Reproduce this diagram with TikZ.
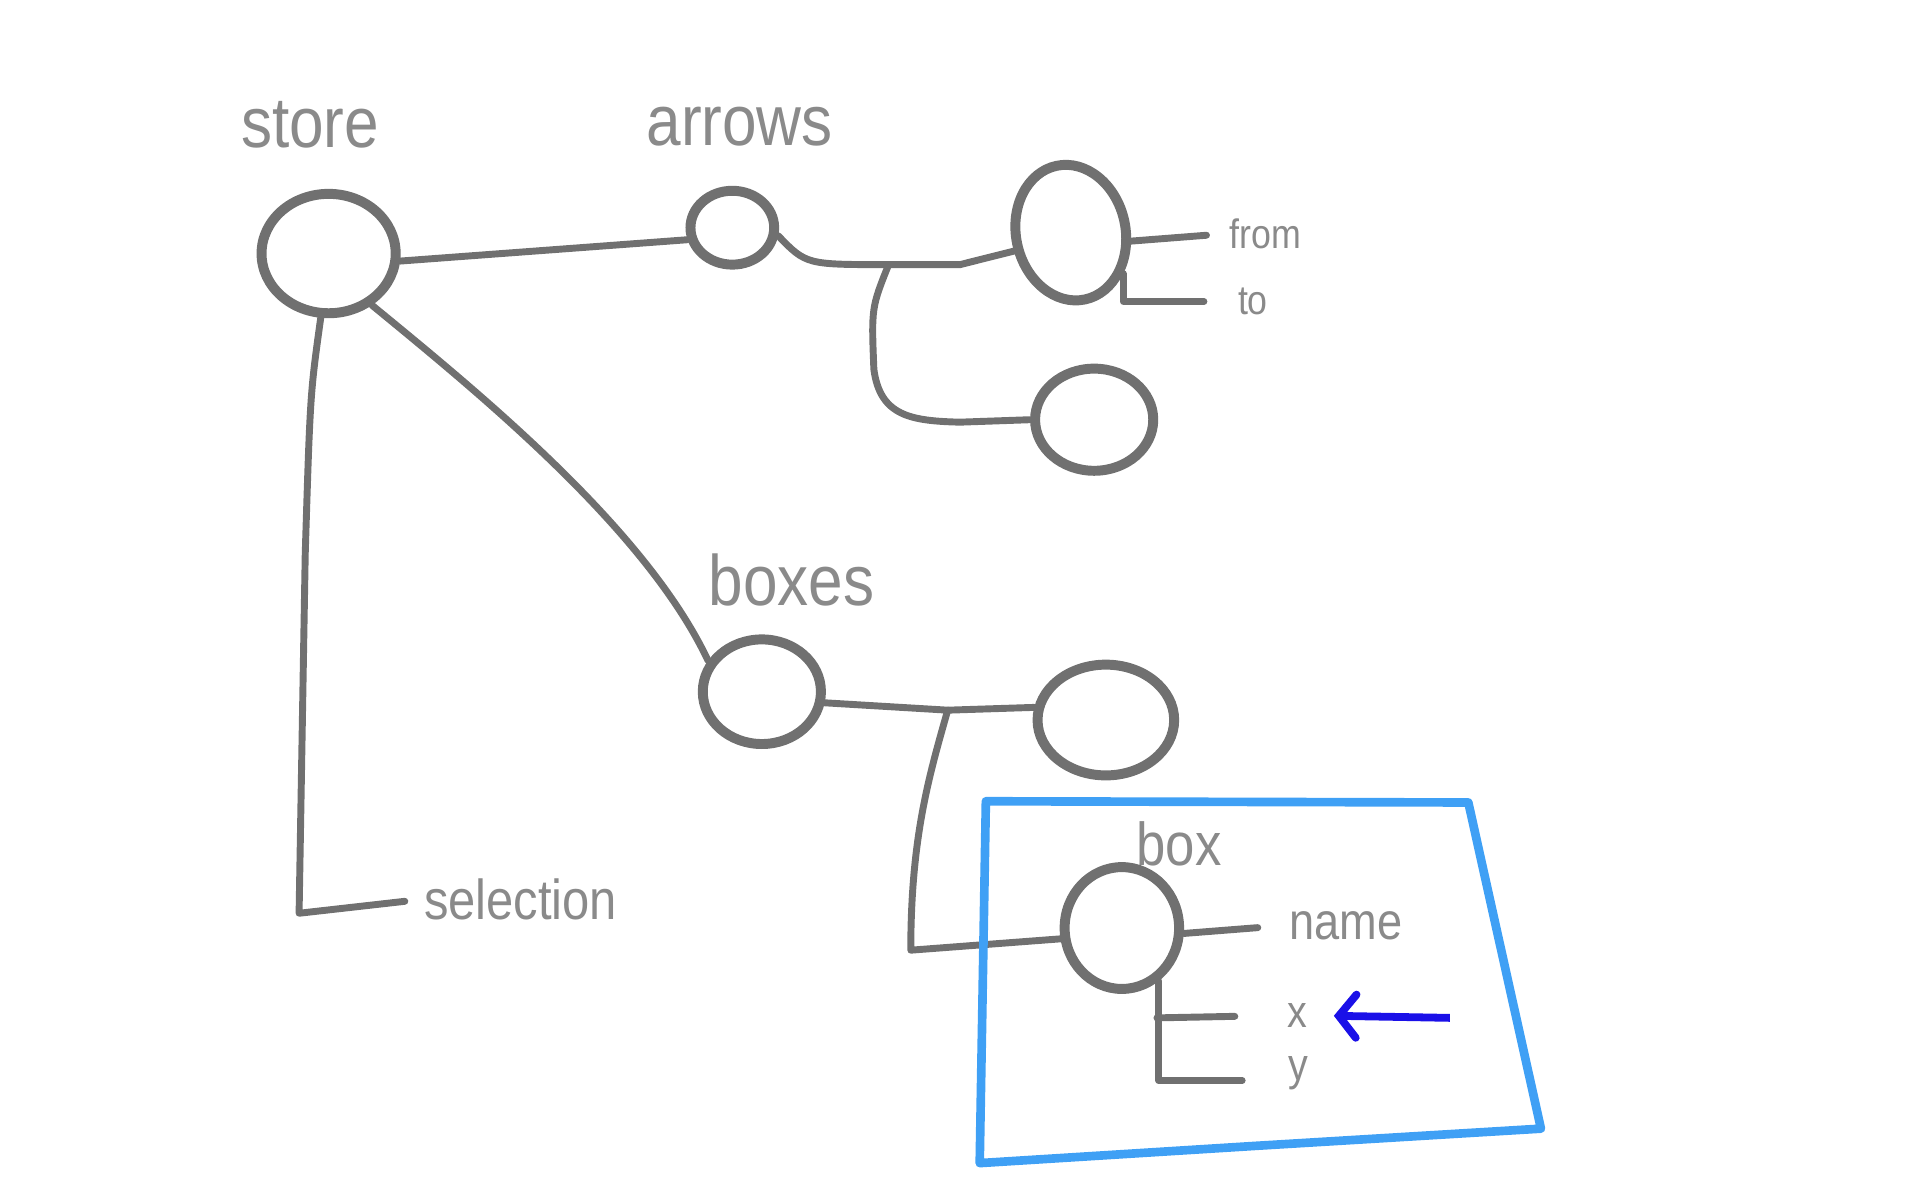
\documentclass[tikz,border=0pt]{standalone}
\usepackage{fontspec}
\setmainfont{Liberation Sans}[FakeStretch=0.87]
\usetikzlibrary{shapes.geometric,arrows.meta}
\definecolor{pencil}{HTML}{707070}
\definecolor{ink}{HTML}{8A8A8A}
\definecolor{frame}{HTML}{3FA0F5}
\definecolor{marker}{HTML}{1A10E8}
\begin{document}
\begin{tikzpicture}[x=1cm, y=-1cm,
    bubble/.style={ellipse, draw=pencil, line width=2.3pt, inner sep=0pt},
    wire/.style={draw=pencil, line width=1.6pt, line cap=round, line join=round},
    title/.style={text=ink, font=\fontsize{16.5pt}{18pt}\selectfont},
    field/.style={text=ink, inner sep=1pt, font=\fontsize{#1pt}{#1pt}\selectfont}]
  \useasboundingbox (0,0) rectangle (15.6,9.75);
  % names
  \node[title] (lst) at (2.52,1.01) {store};
  \node[title] (lar) at (6.01,1.03) {arrows};
  \node[title] (lbx) at (6.43,4.71) {boxes};
  \node[field=14] (lb2) at (9.58,6.86) {box};
  \node[field=13] (sel) at (4.23,7.31) {selection};
  \node[field=9.5] (fr) at (10.28,1.90) {from};
  \node[field=9.5] (tt) at (10.18,2.45) {to};
  \node[field=12] (nm) at (10.935,7.52) {name};
  \node[field=10.5] (fx) at (10.54,8.25) {x};
  \node[field=10.5] (fy) at (10.55,8.72) {y};
  % bubbles
  \node[bubble, minimum width=1.09cm, minimum height=0.97cm] (st) at (2.67,2.06) {};
  \node[bubble, minimum width=0.68cm, minimum height=0.6cm] (ar) at (5.95,1.85) {};
  \node[bubble, minimum width=0.89cm, minimum height=1.11cm, rotate=12] (a1) at (8.70,1.89) {};
  \node[bubble, minimum width=0.96cm, minimum height=0.83cm] (a2) at (8.89,3.41) {};
  \node[bubble, minimum width=0.96cm, minimum height=0.85cm] (bx) at (6.19,5.62) {};
  \node[bubble, minimum width=1.11cm, minimum height=0.9cm] (b1) at (8.985,5.85) {};
  \node[bubble, minimum width=0.93cm, minimum height=0.99cm] (b2) at (9.115,7.54) {};
  \coordinate (ajoin) at (7.22,2.15);
  \coordinate (bjoin) at (7.70,5.77);
  \coordinate (selcorner) at (2.43,7.42);
  \coordinate (bcorner) at (7.40,7.72);
  \coordinate (xjoin) at (9.40,8.27);
  \coordinate (pt) at (11.78,8.27);
  % wires
  \draw[wire] (st.-6) -- (ar.-165);
  \draw[wire] (st.-50) .. controls (3.9,3.2) and (5.25,4.3) .. (bx.150);
  \draw[wire, shorten >=0.115cm] (st.-97) .. controls (2.52,3.2) .. (2.48,4.5) -- (selcorner) -- (sel.west);
  \draw[wire] (ar.-10) .. controls (6.55,2.15) .. (ajoin) -- (7.80,2.15) -- (a1.186);
  \draw[wire] (ajoin) .. controls (7.08,2.5) .. (7.10,3.0) .. controls (7.15,3.38) and (7.40,3.42) .. (7.80,3.43) -- (a2.west);
  \draw[wire, shorten >=0.145cm] (a1.-20) -- (fr.west);
  \draw[wire, shorten >=0.235cm] (a1.-50) |- (tt.west);
  \draw[wire] (bx.-10) -- (bjoin) -- (b1.170);
  \draw[wire] (bjoin) .. controls (7.55,6.3) and (7.40,6.8) .. (bcorner) -- (b2.190);
  \draw[wire, shorten >=0.215cm] (b2.-5) -- (nm.west);
  \draw[wire, shorten >=0.335cm] (b2.-55) |- (fy.base west);
  \draw[wire, shorten >=0.385cm] (xjoin) -- (fx.west);
  % frame and pointer
  \draw[frame, line width=2pt, line join=round] (8.01,6.51) -- (11.93,6.52) -- (12.52,9.17) -- (10.2,9.31) -- (7.96,9.45) -- cycle;
  \draw[marker, line width=1.8pt, -{Straight Barb[length=4pt, width=10pt, line cap=round]}, shorten >=0.175cm] (pt) -- (fx.east);
\end{tikzpicture}
\end{document}
